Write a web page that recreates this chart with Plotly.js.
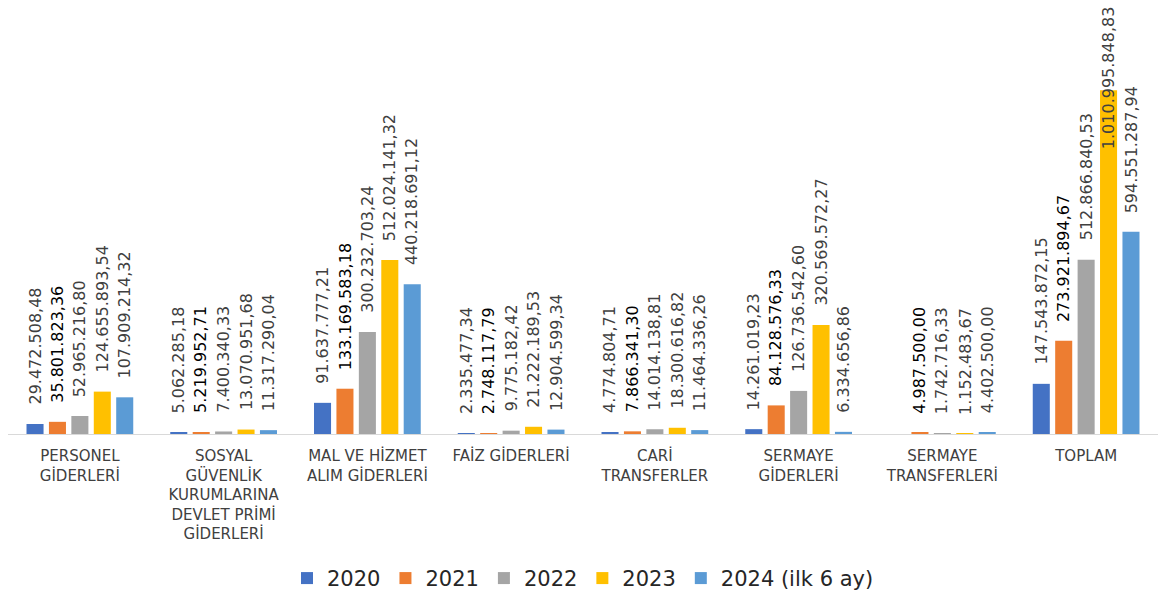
<!DOCTYPE html>
<html>
<head>
<meta charset="utf-8">
<script src="https://cdn.plot.ly/plotly-3.0.1.min.js"></script>
<style>
  html, body { margin: 0; padding: 0; background: #fff; }
  #chart { width: 1158px; height: 599px; }
</style>
</head>
<body>
<div id="chart"></div>
<script>
// ---- Data ----
const categories = [
  'PERSONEL<br>GİDERLERİ',
  'SOSYAL<br>GÜVENLİK<br>KURUMLARINA<br>DEVLET PRİMİ<br>GİDERLERİ',
  'MAL VE HİZMET<br>ALIM GİDERLERİ',
  'FAİZ GİDERLERİ',
  'CARİ<br>TRANSFERLER',
  'SERMAYE<br>GİDERLERİ',
  'SERMAYE<br>TRANSFERLERİ',
  'TOPLAM'
];
const seriesNames = ['2020', '2021', '2022', '2023', '2024 (ilk 6 ay)'];
const values2020 = [29472508.48, 5062285.18, 91637777.21, 2335477.34, 4774804.71, 14261019.23, null, 147543872.15];
const values2021 = [35801823.36, 5219952.71, 133169583.18, 2748117.79, 7866341.30, 84128576.33, 4987500.00, 273921894.67];
const values2022 = [52965216.80, 7400340.33, 300232703.24, 9775182.42, 14014138.81, 126736542.60, 1742716.33, 512866840.53];
const values2023 = [124655893.54, 13070951.68, 512024141.32, 21222189.53, 18300616.82, 320569572.27, 1152483.67, 1010995848.83];
const values2024 = [107909214.32, 11317290.04, 440218691.12, 12904599.34, 11464336.26, 6334656.86, 4402500.00, 594551287.94];

// ---- Styles ----
const seriesValues = [values2020, values2021, values2022, values2023, values2024];
const colors = ['#4472C4', '#ED7D31', '#A5A5A5', '#FFC000', '#5B9BD5'];
const labelColors = ['#404040', '#000000', '#404040', '#404040', '#404040'];
const FONT = '"DejaVu Sans", Verdana, sans-serif';
const W = 1158, H = 599;
const M = { l: 8, r: 0, t: 26, b: 163 };
const plotH = H - M.t - M.b;
const YMAX = 1.2e9;
const bargap = 0.22, bargroupgap = 0.24;
const labelSize = 16, labelGap = 17;

function fmtTR(v) {
  const parts = v.toFixed(2).split('.');
  return parts[0].replace(/\B(?=(\d{3})+(?!\d))/g, '.') + ',' + parts[1];
}

const canvas = document.createElement('canvas');
const ctx = canvas.getContext('2d');
ctx.font = labelSize + 'px "DejaVu Sans"';

const traces = seriesValues.map((vals, i) => ({
  type: 'bar',
  name: seriesNames[i],
  x: categories,
  y: vals,
  marker: { color: colors[i] },
  hoverinfo: 'skip'
}));

const annotations = [];
const n = seriesValues.length;
seriesValues.forEach((vals, i) => {
  vals.forEach((v, j) => {
    if (v === null || v === undefined) return;
    const txt = fmtTR(v);
    const xPos = j + (i - (n - 1) / 2) * (1 - bargap) / n;
    const len = ctx.measureText(txt).width;
    const barTopPx = M.t + (1 - v / YMAX) * plotH;
    const labelTopPx = barTopPx - labelGap - len;
    const base = {
      x: xPos, xref: 'x',
      text: txt, showarrow: false, textangle: -90,
      font: { family: FONT, size: labelSize, color: labelColors[i] },
      xanchor: 'center'
    };
    if (labelTopPx < 4) {
      annotations.push(Object.assign(base, {
        yref: 'paper', y: 1 + (M.t - 4) / plotH, yanchor: 'top'
      }));
    } else {
      annotations.push(Object.assign(base, {
        yref: 'y', y: v, yanchor: 'bottom', yshift: labelGap
      }));
    }
  });
});

const layout = {
  width: W, height: H,
  margin: M,
  paper_bgcolor: '#ffffff',
  plot_bgcolor: '#ffffff',
  barmode: 'group',
  bargap: bargap,
  bargroupgap: bargroupgap,
  showlegend: true,
  legend: {
    orientation: 'h',
    x: 0.5, xanchor: 'center',
    y: -0.354, yanchor: 'middle',
    font: { family: FONT, size: 21, color: '#262626' },
    traceorder: 'normal'
  },
  xaxis: {
    type: 'category',
    showline: true, linecolor: '#d9d9d9', linewidth: 1.3,
    ticks: '', showgrid: false, zeroline: false,
    tickfont: { family: FONT, size: 15, color: '#404040' },
    ticklabelstandoff: 8,
    fixedrange: true
  },
  yaxis: {
    range: [0, YMAX],
    visible: false,
    showgrid: false, zeroline: false,
    fixedrange: true
  },
  annotations: annotations
};

Plotly.newPlot('chart', traces, layout, { displayModeBar: false, responsive: false });
</script>
</body>
</html>
